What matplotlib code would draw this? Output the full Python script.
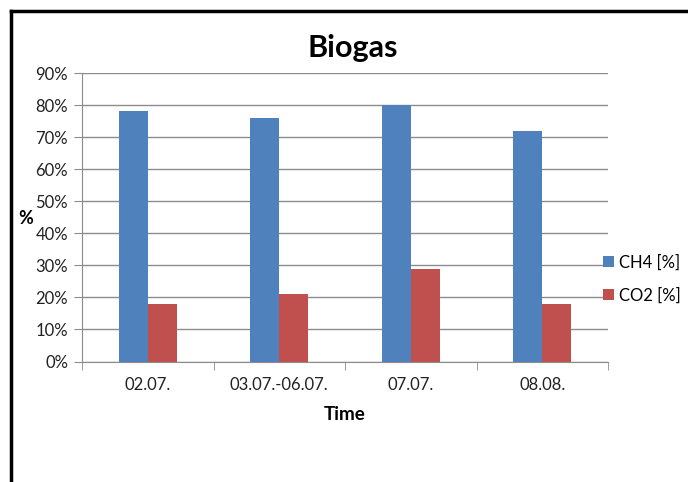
import matplotlib
matplotlib.use("Agg")
import matplotlib.pyplot as plt
from matplotlib.lines import Line2D
import numpy as np

categories = ["02.07.", "03.07.-06.07.", "07.07.", "08.08."]
ch4 = [78, 76, 80, 72]
co2 = [18, 21, 29, 18]
series_labels = ["CH4 [%]", "CO2 [%]"]
yticks = [0, 10, 20, 30, 40, 50, 60, 70, 80, 90]

W, H = 688, 482
plt.rcParams["font.family"] = ["Lato", "DejaVu Sans"]

fig = plt.figure(figsize=(W / 100, H / 100), dpi=100)
ax = fig.add_axes([82 / W, 1 - 361.5 / H, (608 - 82) / W, (361.5 - 73) / H])

x = np.arange(len(categories))
bw = 0.22
b1 = ax.bar(x - bw / 2, ch4, bw, color="#4f81bd", label=series_labels[0], zorder=3)
b2 = ax.bar(x + bw / 2, co2, bw, color="#c0504d", label=series_labels[1], zorder=3)

ax.set_xlim(-0.5, len(categories) - 0.5)
ax.set_ylim(0, 90)
ax.set_yticks(yticks)
ax.set_yticklabels([f"{v}%" for v in yticks], fontsize=12, color="#222222")
ax.yaxis.grid(True, color="#8c8c8c", lw=1, zorder=0)

ax.set_xticks(x)
ax.set_xticklabels(categories, fontsize=12, color="#222222")
ax.tick_params(axis="x", length=0, pad=11)
ax.set_xticks(np.arange(len(categories) + 1) - 0.5, minor=True)
ax.tick_params(axis="x", which="minor", length=6, color="#8c8c8c")
ax.tick_params(axis="y", length=6, color="#8c8c8c", pad=4)

for s in ["top", "right"]:
    ax.spines[s].set_visible(False)
for s in ["left", "bottom"]:
    ax.spines[s].set_color("#8c8c8c")

fig.text(353 / W, 1 - 48 / H, "Biogas", fontsize=22, fontweight="bold",
         ha="center", va="center")
fig.text(26 / W, 1 - 218 / H, "%", fontsize=13, fontweight="bold",
         ha="center", va="center")
fig.text(345 / W, 1 - 415 / H, "Time", fontsize=13.5, fontweight="bold",
         ha="center", va="center")

fig.legend(handles=[b1, b2], labels=series_labels, loc="center left",
           bbox_to_anchor=(588 / W, 1 - 279 / H), frameon=False, fontsize=12,
           handlelength=0.65, handleheight=0.65, handletextpad=0.3, labelspacing=1.0)

# outer frame (left and top edges only)
fig.add_artist(Line2D([11 / W, 11 / W], [0, 1 - 11 / H], color="black", lw=2.5,
                      transform=fig.transFigure))
fig.add_artist(Line2D([11 / W, 1], [1 - 11 / H, 1 - 11 / H], color="black", lw=2.5,
                      transform=fig.transFigure))

fig.savefig("out.png", dpi=100)
